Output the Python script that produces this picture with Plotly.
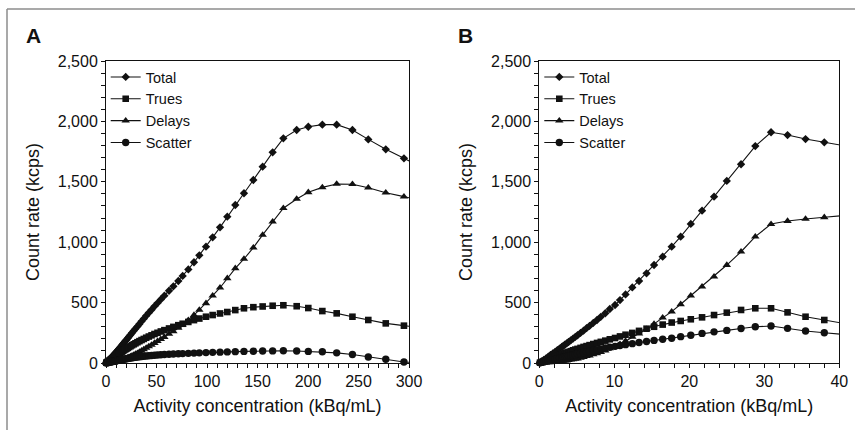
import plotly.graph_objects as go

# ---------------- Panel A data (activity in kBq/mL, count rate in kcps) -------------
a_x = [0.3, 0.8, 1.5, 2.2, 3, 3.8, 4.6, 5.4, 6.2, 7, 7.5, 8, 8.5, 9, 9.6, 10.2, 10.9,
       11.6, 12.3, 13.1, 13.9, 14.8, 15.8, 16.8, 17.8, 19, 20.2, 21.5, 22.8, 24.3,
       25.8, 27.5, 29.2, 31.1, 33.1, 35.2, 37.4, 39.8, 42.4, 45.1, 48, 51, 54.3,
       57.8, 62.4, 66.7, 71.6, 75.9, 81.5, 87.1, 92.4, 99, 105.6, 112.9, 120.1, 128,
       136.6, 145.9, 155.1, 165, 175.6, 188.8, 200.3, 214.2, 228.4, 244, 259.7, 277, 295]
a_total = [3, 7, 12, 18, 25, 32, 39, 46, 53, 60, 65, 69, 74, 79, 84, 90, 97, 104, 111,
           119, 128, 136, 147, 157, 168, 180, 191, 205, 219, 234, 250, 267, 284, 303,
           323, 345, 367, 391, 416, 441, 469, 496, 526, 557, 598, 635, 679, 721, 775,
           834, 891, 963, 1040, 1123, 1211, 1308, 1405, 1515, 1625, 1744, 1860, 1929,
           1956, 1973, 1973, 1929, 1851, 1769, 1694]
a_trues = [2, 5, 9, 13, 18, 23, 28, 33, 37, 42, 45, 48, 51, 54, 57, 61, 65, 69, 73, 78,
           83, 88, 94, 100, 106, 112, 118, 125, 132, 139, 147, 155, 163, 172, 181, 190,
           199, 209, 219, 229, 240, 250, 261, 272, 286, 299, 313, 325, 340, 355, 368,
           383, 397, 410, 422, 438, 453, 462, 468, 474, 478, 470, 455, 430, 411, 383,
           356, 328, 309]
a_delays = [0, 0, 0, 1, 1, 2, 2, 3, 4, 5, 6, 6, 7, 8, 9, 10, 12, 13, 15, 17, 19, 21, 24,
            27, 30, 34, 38, 43, 48, 54, 60, 67, 74, 82, 91, 101, 112, 124, 137, 150, 165,
            180, 197, 215, 240, 262, 290, 318, 355, 397, 439, 494, 557, 623, 701, 784,
            861, 955, 1060, 1170, 1281, 1358, 1413, 1454, 1482, 1480, 1451, 1410, 1377]
a_scatter = [1, 2, 3, 4, 6, 7, 9, 10, 12, 13, 14, 15, 16, 17, 18, 19, 20, 22, 23, 24, 26,
             27, 29, 30, 32, 34, 35, 37, 39, 41, 43, 45, 47, 49, 51, 54, 56, 58, 60, 62,
             64, 66, 68, 70, 72, 74, 76, 78, 80, 82, 84, 86, 88, 90, 92, 94, 96, 97, 99,
             100, 101, 99, 96, 93, 84, 70, 50, 31, 8]
# continuation of the curves past the right axis edge
a_tail_x = [295, 313]
a_tail = {"Total": [1694, 1620], "Trues": [309, 290], "Delays": [1377, 1345], "Scatter": [8, 0]}

# ---------------- Panel B data -------------
b_x = [0.1, 0.3, 0.6, 0.9, 1.2, 1.5, 1.8, 2.1, 2.4, 2.7, 3.0, 3.2, 3.4, 3.65, 3.9, 4.2,
       4.5, 4.8, 5.1, 5.5, 5.9, 6.3, 6.7, 7.2, 7.7, 8.2, 8.8, 9.4, 10.1, 10.76, 11.5,
       12.4, 13.3, 14.3, 15.3, 16.45, 17.65, 18.85, 20.2, 21.7, 23.3, 25, 26.9, 28.8,
       30.9, 33.1, 35.5, 38]
b_total = [4, 13, 26, 39, 52, 66, 79, 92, 106, 119, 133, 142, 151, 162, 174, 188, 202,
           216, 230, 249, 268, 288, 307, 332, 356, 382, 412, 447, 480, 521, 568, 626,
           679, 742, 811, 880, 963, 1046, 1151, 1261, 1377, 1507, 1645, 1796, 1910,
           1887, 1854, 1827]
b_trues = [3, 8, 15, 22, 30, 37, 44, 51, 58, 65, 72, 77, 81, 87, 92, 98, 105, 111, 117,
           125, 133, 140, 148, 157, 166, 175, 185, 196, 207, 220, 234, 249, 266, 284,
           300, 318, 335, 348, 362, 378, 397, 417, 439, 453, 453, 419, 383, 356]
b_delays = [0, 0, 2, 3, 4, 6, 8, 9, 12, 13, 16, 17, 19, 20, 24, 27, 30, 34, 37, 43, 48,
            56, 61, 71, 79, 90, 103, 120, 135, 156, 182, 217, 243, 280, 324, 375, 425,
            486, 557, 632, 714, 811, 921, 1046, 1150, 1175, 1192, 1206]
b_scatter = [2, 5, 9, 14, 18, 23, 27, 32, 36, 41, 45, 48, 51, 55, 58, 63, 67, 71, 76, 81,
             87, 92, 98, 104, 111, 117, 124, 131, 138, 145, 152, 160, 170, 178, 187, 196,
             205, 218, 230, 245, 258, 270, 285, 300, 306, 287, 265, 251]
b_tail_x = [38, 40.6]
b_tail = {"Total": [1827, 1799], "Trues": [356, 328], "Delays": [1206, 1221], "Scatter": [251, 236]}

series_names = ["Total", "Trues", "Delays", "Scatter"]
a_values = {"Total": a_total, "Trues": a_trues, "Delays": a_delays, "Scatter": a_scatter}
b_values = {"Total": b_total, "Trues": b_trues, "Delays": b_delays, "Scatter": b_scatter}

# ---------------- Styling -------------
FONT = "Liberation Sans, Arial, Helvetica, sans-serif"
INK = "#111111"
symbols = {"Total": "diamond", "Trues": "square", "Delays": "triangle-up", "Scatter": "circle"}
sizes = {"Total": 6.4, "Trues": 6.6, "Delays": 7.4, "Scatter": 7.4}

fig = go.Figure()

for panel, xs, vals, tx, tail, xa, ya, leg in [
    ("A", a_x, a_values, a_tail_x, a_tail, "x", "y", "legend"),
    ("B", b_x, b_values, b_tail_x, b_tail, "x2", "y2", "legend2"),
]:
    for name in series_names:
        fig.add_trace(go.Scatter(
            x=tx, y=tail[name], mode="lines", xaxis=xa, yaxis=ya,
            line=dict(color=INK, width=1.1), showlegend=False, hoverinfo="skip",
        ))
        fig.add_trace(go.Scatter(
            x=xs, y=vals[name], name=name, mode="lines+markers", xaxis=xa, yaxis=ya,
            legend=leg, cliponaxis=False,
            line=dict(color=INK, width=1.1),
            marker=dict(symbol=symbols[name], size=sizes[name], color=INK, line=dict(width=0)),
        ))

axis_common = dict(
    showline=True, linecolor=INK, linewidth=1, mirror=True,
    ticks="outside", ticklen=4, tickwidth=1, tickcolor=INK,
    showgrid=False, zeroline=False, automargin=False,
    tickfont=dict(family=FONT, size=16, color=INK),
    title_font=dict(family=FONT, size=18, color=INK),
)

ydom = [1 - 363 / 430, 1 - 61 / 430]
xa_dom = [106 / 855, 409 / 855]
xb_dom = [539.3 / 855, 839.3 / 855]

legend_style = dict(y=1 - 61 / 430, xanchor="left", yanchor="top",
                    bgcolor="rgba(0,0,0,0)", borderwidth=0,
                    font=dict(family=FONT, size=14.5, color=INK))

fig.update_layout(
    width=855, height=430, autosize=False,
    margin=dict(l=0, r=0, t=0, b=0, pad=0),
    paper_bgcolor="white", plot_bgcolor="white",
    font=dict(family=FONT, color=INK),
    xaxis=dict(domain=xa_dom, anchor="y", range=[0, 300], tick0=0, dtick=50,
               minor=dict(dtick=10, ticks="outside", ticklen=4, tickcolor=INK, showgrid=False),
               title=dict(text="Activity concentration (kBq/mL)", standoff=10), **axis_common),
    yaxis=dict(domain=ydom, anchor="x", range=[0, 2500], tick0=0, dtick=500, tickformat=",",
               minor=dict(dtick=100, ticks="outside", ticklen=4, tickcolor=INK, showgrid=False),
               title=dict(text="Count rate (kcps)", standoff=13), **axis_common),
    xaxis2=dict(domain=xb_dom, anchor="y2", range=[0, 40], tick0=0, dtick=10,
                minor=dict(dtick=2, ticks="outside", ticklen=4, tickcolor=INK, showgrid=False),
                title=dict(text="Activity concentration (kBq/mL)", standoff=10), **axis_common),
    yaxis2=dict(domain=ydom, anchor="x2", range=[0, 2500], tick0=0, dtick=500, tickformat=",",
                minor=dict(dtick=100, ticks="outside", ticklen=4, tickcolor=INK, showgrid=False),
                title=dict(text="Count rate (kcps)", standoff=13), **axis_common),
    legend=dict(x=105.7 / 855, **legend_style),
    legend2=dict(x=539.3 / 855, **legend_style),
    showlegend=True,
    annotations=[
        dict(text="<b>A</b>", x=33 / 855, y=1 - 35.5 / 430, xref="paper", yref="paper",
             xanchor="center", yanchor="middle", showarrow=False,
             font=dict(family=FONT, size=21, color=INK)),
        dict(text="<b>B</b>", x=465.5 / 855, y=1 - 35.5 / 430, xref="paper", yref="paper",
             xanchor="center", yanchor="middle", showarrow=False,
             font=dict(family=FONT, size=21, color=INK)),
    ],
    shapes=[
        dict(type="line", xref="paper", yref="paper", x0=7 / 855, x1=1, y0=1 - 9 / 430, y1=1 - 9 / 430,
             line=dict(color="#8c8c8c", width=1.5)),
        dict(type="line", xref="paper", yref="paper", x0=7 / 855, x1=7 / 855, y0=0, y1=1 - 9 / 430,
             line=dict(color="#8c8c8c", width=1.5)),
    ],
)

fig.write_html(
    "out.html",
    post_script="document.body.style.margin='0px';document.body.style.padding='0px';"
                "document.documentElement.style.overflow='hidden';",
)
